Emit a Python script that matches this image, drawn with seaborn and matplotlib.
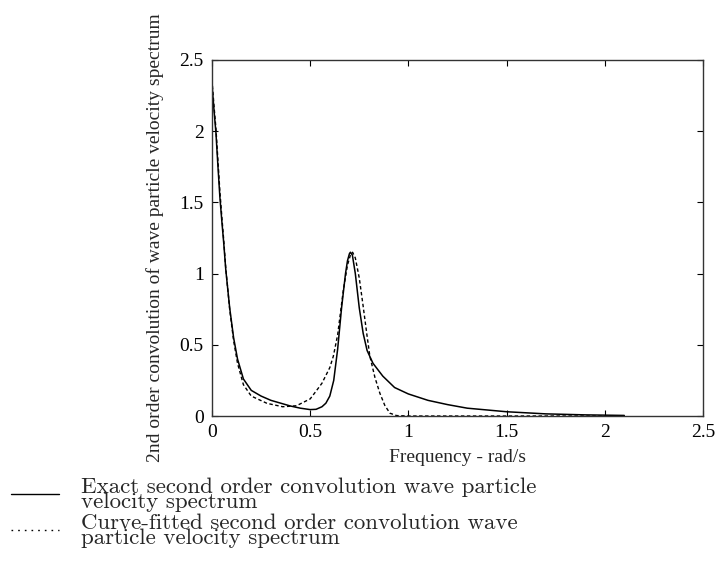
import pandas as pd
import seaborn as sns
import matplotlib.pyplot as plt
from matplotlib.lines import Line2D

# Exact second order convolution spectrum
freq_exact = [0, 0.01, 0.02, 0.03, 0.04, 0.05, 0.06, 0.07, 0.09, 0.11, 0.13,
              0.16, 0.20, 0.25, 0.30, 0.35, 0.40, 0.45, 0.50, 0.53, 0.56, 0.58,
              0.60, 0.62, 0.64, 0.66, 0.68, 0.69, 0.70, 0.705, 0.715, 0.73,
              0.75, 0.77, 0.79, 0.82, 0.87, 0.93, 1.00, 1.10, 1.20, 1.30, 1.50,
              1.70, 1.90, 2.10]
spec_exact = [2.33, 2.15, 1.99, 1.76, 1.54, 1.37, 1.21, 1.03, 0.76, 0.55, 0.40,
              0.26, 0.18, 0.14, 0.11, 0.09, 0.07, 0.055, 0.045, 0.047, 0.065, 0.09,
              0.14, 0.25, 0.47, 0.76, 1.00, 1.09, 1.14, 1.15, 1.13, 1.00,
              0.76, 0.58, 0.46, 0.37, 0.28, 0.20, 0.155, 0.11, 0.08, 0.055, 0.03,
              0.015, 0.008, 0.004]

# Curve-fitted spectrum
freq_fit = [0, 0.01, 0.02, 0.03, 0.04, 0.05, 0.06, 0.07, 0.09, 0.11, 0.13,
            0.16, 0.20, 0.28, 0.36, 0.43, 0.50, 0.533, 0.56, 0.60, 0.618, 0.64,
            0.669, 0.69, 0.705, 0.716, 0.73, 0.75, 0.77, 0.79, 0.804, 0.83,
            0.855, 0.88, 0.906, 0.94, 1.00, 1.50, 2.10]
spec_fit = [2.36, 2.18, 2.02, 1.80, 1.58, 1.40, 1.23, 1.04, 0.75, 0.53, 0.37,
            0.22, 0.14, 0.089, 0.065, 0.072, 0.12, 0.18, 0.23, 0.34, 0.42, 0.57,
            0.885, 1.06, 1.13, 1.15, 1.11, 0.97, 0.77, 0.56, 0.42, 0.27,
            0.16, 0.075, 0.02, 0.003, 0.0, 0.0, 0.0]

xticks = [0, 0.5, 1, 1.5, 2, 2.5]
yticks = [0, 0.5, 1, 1.5, 2, 2.5]

label_exact = 'Exact second order convolution wave particle\nvelocity spectrum'
label_fit = 'Curve-fitted second order convolution wave\nparticle velocity spectrum'

sns.set_style('ticks')
plt.rcParams['font.family'] = ['Liberation Serif', 'DejaVu Serif']

df_exact = pd.DataFrame({'Frequency': freq_exact, 'Spectrum': spec_exact})
df_fit = pd.DataFrame({'Frequency': freq_fit, 'Spectrum': spec_fit})

fig = plt.figure(figsize=(7.15, 5.66), dpi=100)
ax = fig.add_axes([0.2965, 0.265, 0.6865, 0.629])

sns.lineplot(data=df_exact, x='Frequency', y='Spectrum', ax=ax, color='black',
             linewidth=1.1, sort=False)
sns.lineplot(data=df_fit, x='Frequency', y='Spectrum', ax=ax, color='black',
             linewidth=1.0, linestyle=(0, (2.5, 1.8)), sort=False)

ax.set_xlim(0, 2.5)
ax.set_ylim(0, 2.5)
ax.set_xticks(xticks)
ax.set_yticks(yticks)
ax.set_xticklabels([f'{t:g}' for t in xticks])
ax.set_yticklabels([f'{t:g}' for t in yticks])
ax.tick_params(direction='in', length=4, width=0.8, top=True, right=True,
               labelsize=14, colors='black')
ax.tick_params(axis='y', pad=6)
ax.tick_params(axis='x', pad=6)
for s in ax.spines.values():
    s.set_linewidth(1.0)
    s.set_color('#333333')

ax.set_xlabel('Frequency - rad/s', fontsize=14)
ax.set_ylabel('2nd order convolution of wave particle velocity spectrum',
              fontsize=14)
ax.xaxis.set_label_coords(0.5, -0.093)
ax.yaxis.set_label_coords(-0.098, 0.5)

# legend below the axes, in a Computer Modern face
handles = [Line2D([], [], color='black', linewidth=1.0),
           Line2D([], [], color='black', linewidth=1.0, linestyle=(0, (1.2, 3.6)))]
leg = fig.legend(handles, [label_exact, label_fit], loc='upper left',
                 bbox_to_anchor=(11 / 715, 1 - 477 / 566), frameon=False,
                 prop={'family': 'cmr10', 'size': 16.5}, handlelength=2.1,
                 handletextpad=0.95, labelspacing=0.05, borderpad=0,
                 borderaxespad=0)
for t in leg.get_texts():
    t.set_linespacing(0.74)

plt.savefig('out.png', dpi=100)
